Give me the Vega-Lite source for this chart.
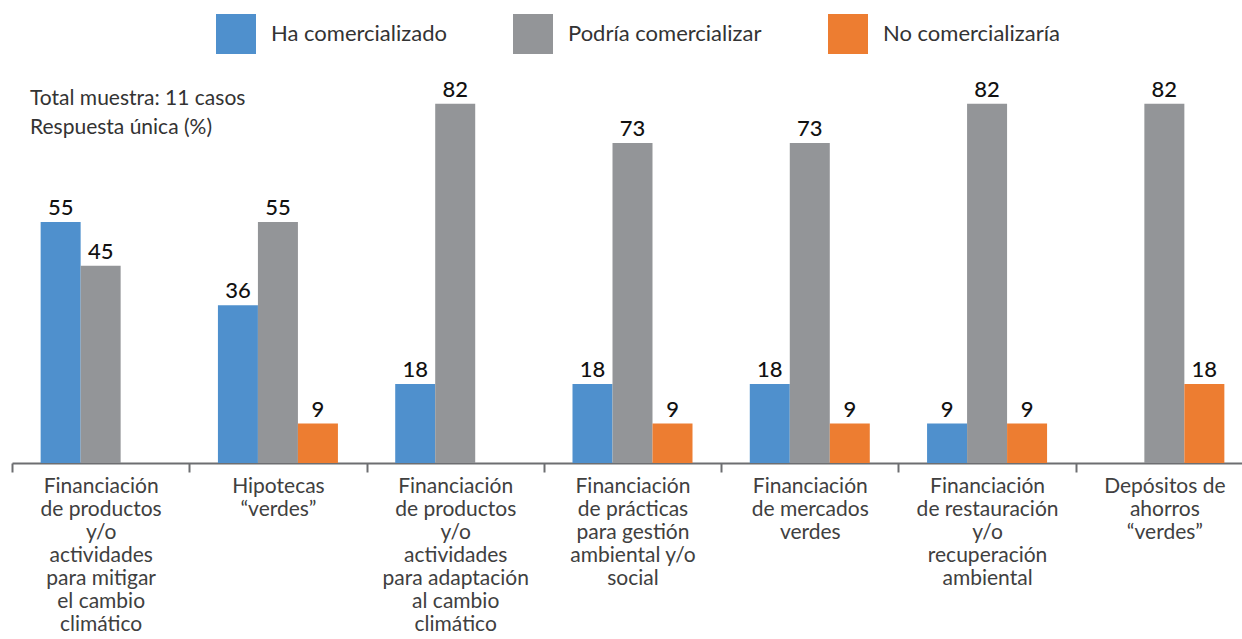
{
  "$schema": "https://vega.github.io/schema/vega-lite/v6.json",
  "width": 1230,
  "height": 440,
  "autosize": {"type": "none"},
  "padding": {"left": 12, "top": 23, "right": 0, "bottom": 176},
  "background": "white",
  "title": {
    "text": ["Total muestra: 11 casos", "Respuesta única (%)"],
    "anchor": "start",
    "frame": "group",
    "orient": "top",
    "offset": 0,
    "baseline": "top",
    "dx": 18,
    "dy": 124,
    "fontSize": 21,
    "fontWeight": "normal",
    "color": "#333333",
    "lineHeight": 29,
    "font": "Lato"
  },
  "config": {
    "view": {"stroke": null},
    "font": "Lato"
  },
  "data": {
    "values": [
      {"categoria": "Financiación\nde productos\ny/o\nactividades\npara mitigar\nel cambio\nclimático", "serie": "Ha comercializado", "valor": 55},
      {"categoria": "Financiación\nde productos\ny/o\nactividades\npara mitigar\nel cambio\nclimático", "serie": "Podría comercializar", "valor": 45},
      {"categoria": "Hipotecas\n“verdes”", "serie": "Ha comercializado", "valor": 36},
      {"categoria": "Hipotecas\n“verdes”", "serie": "Podría comercializar", "valor": 55},
      {"categoria": "Hipotecas\n“verdes”", "serie": "No comercializaría", "valor": 9},
      {"categoria": "Financiación\nde productos\ny/o\nactividades\npara adaptación\nal cambio\nclimático", "serie": "Ha comercializado", "valor": 18},
      {"categoria": "Financiación\nde productos\ny/o\nactividades\npara adaptación\nal cambio\nclimático", "serie": "Podría comercializar", "valor": 82},
      {"categoria": "Financiación\nde prácticas\npara gestión\nambiental y/o\nsocial", "serie": "Ha comercializado", "valor": 18},
      {"categoria": "Financiación\nde prácticas\npara gestión\nambiental y/o\nsocial", "serie": "Podría comercializar", "valor": 73},
      {"categoria": "Financiación\nde prácticas\npara gestión\nambiental y/o\nsocial", "serie": "No comercializaría", "valor": 9},
      {"categoria": "Financiación\nde mercados\nverdes", "serie": "Ha comercializado", "valor": 18},
      {"categoria": "Financiación\nde mercados\nverdes", "serie": "Podría comercializar", "valor": 73},
      {"categoria": "Financiación\nde mercados\nverdes", "serie": "No comercializaría", "valor": 9},
      {"categoria": "Financiación\nde restauración\ny/o\nrecuperación\nambiental", "serie": "Ha comercializado", "valor": 9},
      {"categoria": "Financiación\nde restauración\ny/o\nrecuperación\nambiental", "serie": "Podría comercializar", "valor": 82},
      {"categoria": "Financiación\nde restauración\ny/o\nrecuperación\nambiental", "serie": "No comercializaría", "valor": 9},
      {"categoria": "Depósitos de\nahorros\n“verdes”", "serie": "Podría comercializar", "valor": 82},
      {"categoria": "Depósitos de\nahorros\n“verdes”", "serie": "No comercializaría", "valor": 18}
    ]
  },
  "encoding": {
    "x": {
      "field": "categoria",
      "type": "nominal",
      "sort": null,
      "scale": {"range": [0, 1241], "paddingInner": 0, "paddingOuter": 0},
      "axis": {
        "title": null,
        "labelAngle": 0,
        "labelExpr": "split(datum.label, '\\n')",
        "labelFontSize": 21,
        "labelColor": "#404040",
        "labelLineHeight": 23,
        "labelPadding": 3,
        "labelLimit": 0,
        "tickBand": "extent",
        "tickSize": 9,
        "tickWidth": 2,
        "tickColor": "#6d6e71",
        "domainColor": "#6d6e71",
        "domainWidth": 2,
        "grid": false
      }
    },
    "xOffset": {
      "field": "serie",
      "type": "nominal",
      "scale": {"domain": ["Ha comercializado", "Podría comercializar", "No comercializaría"], "paddingInner": 0, "paddingOuter": 0.716}
    },
    "y": {
      "field": "valor",
      "type": "quantitative",
      "scale": {"domain": [0, 100.4]},
      "axis": null
    }
  },
  "layer": [
    {
      "mark": {"type": "bar"},
      "encoding": {
        "color": {
          "field": "serie",
          "type": "nominal",
          "scale": {
            "domain": ["Ha comercializado", "Podría comercializar", "No comercializaría"],
            "range": ["#4f90cd", "#939598", "#ed7d31"]
          },
          "legend": {
            "title": null,
            "orient": "none",
            "legendX": 204,
            "legendY": -9,
            "direction": "horizontal",
            "symbolType": "square",
            "symbolSize": 1600,
            "symbolStrokeWidth": 0,
            "labelOffset": 15,
            "columnPadding": 66,
            "labelFontSize": 22,
            "labelLimit": 0,
            "labelColor": "#333333",
            "labelFont": "Lato",
            "padding": 0
          }
        }
      }
    },
    {
      "mark": {"type": "text", "baseline": "alphabetic", "dy": -7, "fontSize": 22, "fontWeight": 500, "color": "#111111", "font": "Lato"},
      "encoding": {
        "text": {"field": "valor", "type": "quantitative", "format": ".0f"}
      }
    }
  ]
}
